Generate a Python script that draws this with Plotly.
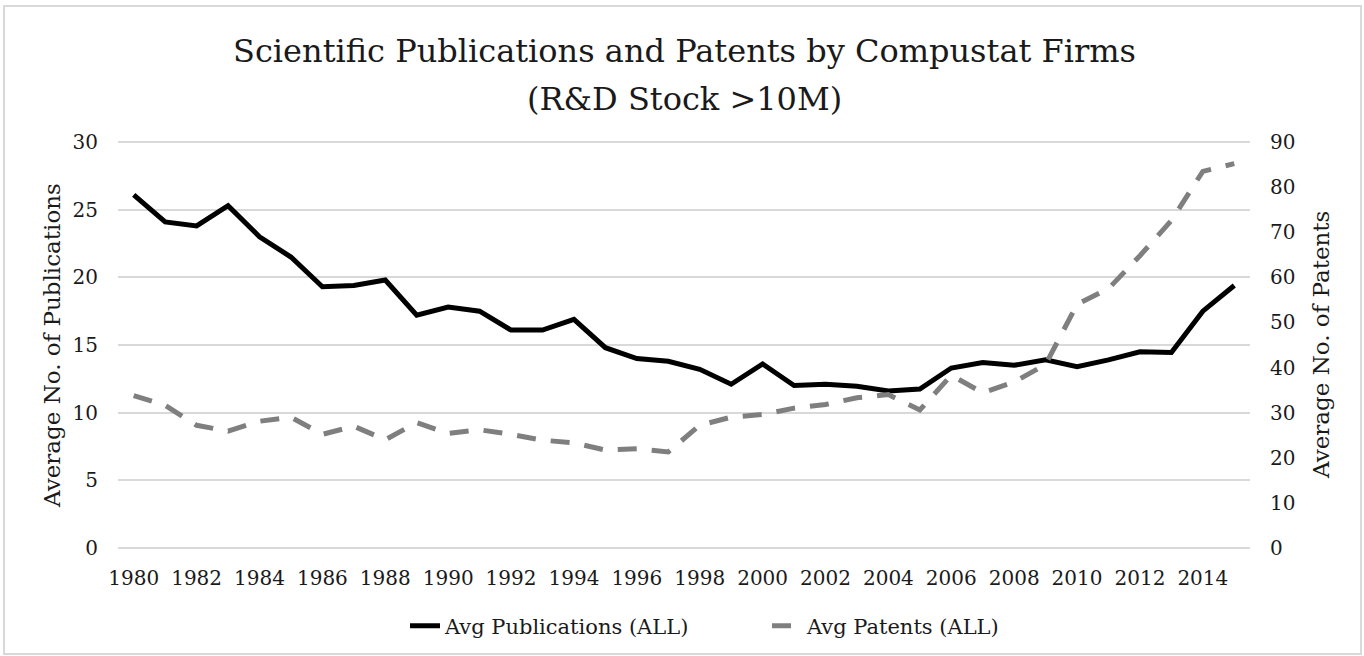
import plotly.graph_objects as go

years = list(range(1980, 2016))
pubs = [26.1, 24.1, 23.8, 25.3, 23.0, 21.5, 19.3, 19.4, 19.8, 17.2,
        17.8, 17.5, 16.1, 16.1, 16.9, 14.8, 14.0, 13.8, 13.2, 12.1,
        13.6, 12.0, 12.1, 11.95, 11.6, 11.75, 13.3, 13.7, 13.5, 13.9,
        13.4, 13.9, 14.5, 14.45, 17.5, 19.4]
patents = [33.8, 31.6, 27.2, 25.9, 28.1, 29.0, 25.2, 27.0, 24.0, 27.8,
           25.4, 26.2, 25.2, 23.9, 23.3, 21.7, 22.0, 21.3, 27.2, 29.0,
           29.6, 31.0, 31.8, 33.3, 34.0, 30.6, 38.3, 34.4, 36.8, 40.7,
           54.0, 57.5, 64.8, 72.6, 83.5, 85.2]
xtick_years = list(range(1980, 2016, 2))
title_lines = ["Scientific Publications and Patents by Compustat Firms", "(R&D Stock >10M)"]
y_title_left = "Average No. of Publications"
y_title_right = "Average No. of Patents"

FONT = "DejaVu Serif"
TXT = "#1a1a1a"

fig = go.Figure()
fig.add_trace(go.Scatter(x=years, y=pubs, name="Avg Publications (ALL)",
                         mode="lines", line=dict(color="#000000", width=5),
                         yaxis="y"))
fig.add_trace(go.Scatter(x=years, y=patents, name="Avg Patents (ALL)",
                         mode="lines", line=dict(color="#7f7f7f", width=5, dash="19px,15px"),
                         yaxis="y2"))

L, R, T, B = 118, 114, 140, 106
W, H = 1364, 656
pw, ph = W - L - R, H - T - B

def px2paperx(px):
    return (px - L) / pw

def py2papery(py):
    return (H - B - py) / ph

eps = 0.15
fig.update_layout(
    template="none",
    width=W, height=H,
    margin=dict(l=L, r=R, t=T, b=B, autoexpand=False),
    paper_bgcolor="white", plot_bgcolor="white",
    font=dict(family=FONT, color=TXT, size=20),
    xaxis=dict(range=[1979.5, 2015.5], tickmode="array", tickvals=xtick_years,
               ticktext=[str(y) for y in xtick_years], automargin=False,
               showgrid=False, zeroline=False, showline=False,
               ticks="outside", ticklen=10, tickcolor="rgba(0,0,0,0)",
               tickfont=dict(size=20, color=TXT)),
    yaxis=dict(range=[-eps, 30 + eps], tickvals=[0, 5, 10, 15, 20, 25, 30], automargin=False,
               showgrid=True, gridcolor="#d9d9d9", gridwidth=2,
               zeroline=False, showline=False,
               ticks="outside", ticklen=15, tickcolor="rgba(0,0,0,0)",
               tickfont=dict(size=20, color=TXT)),
    yaxis2=dict(range=[-3 * eps, 90 + 3 * eps], tickvals=list(range(0, 91, 10)),
                overlaying="y", side="right", showgrid=False, automargin=False,
                zeroline=False, showline=False,
                ticks="outside", ticklen=15, tickcolor="rgba(0,0,0,0)",
                tickfont=dict(size=20, color=TXT)),
    legend=dict(orientation="h", x=px2paperx(405), xanchor="left", y=py2papery(626), yanchor="middle",
                font=dict(size=21, color=TXT), entrywidth=317, entrywidthmode="pixels",
                bgcolor="rgba(0,0,0,0)", borderwidth=0),
    showlegend=True,
)

# titles
fig.add_annotation(text=title_lines[0], xref="paper", yref="paper", x=px2paperx(684), y=py2papery(51),
                   xanchor="center", yanchor="middle", showarrow=False,
                   font=dict(family=FONT, size=32, color=TXT))
fig.add_annotation(text=title_lines[1], xref="paper", yref="paper", x=px2paperx(684), y=py2papery(99),
                   xanchor="center", yanchor="middle", showarrow=False,
                   font=dict(family=FONT, size=32, color=TXT))
fig.add_annotation(text=y_title_left, xref="paper", yref="paper", x=px2paperx(52), y=py2papery(346),
                   xanchor="center", yanchor="middle", textangle=-90, showarrow=False,
                   font=dict(family=FONT, size=23, color=TXT))
fig.add_annotation(text=y_title_right, xref="paper", yref="paper", x=px2paperx(1321), y=py2papery(345),
                   xanchor="center", yanchor="middle", textangle=-90, showarrow=False,
                   font=dict(family=FONT, size=23, color=TXT))

fig.add_shape(type="rect", xref="paper", yref="paper",
              x0=px2paperx(4), x1=px2paperx(1361), y0=py2papery(654), y1=py2papery(6),
              line=dict(color="#d9d9d9", width=2), fillcolor="rgba(0,0,0,0)", layer="below")

fig.write_html("out.html", config={"displayModeBar": False},
               post_script="document.body.style.margin='0';")
